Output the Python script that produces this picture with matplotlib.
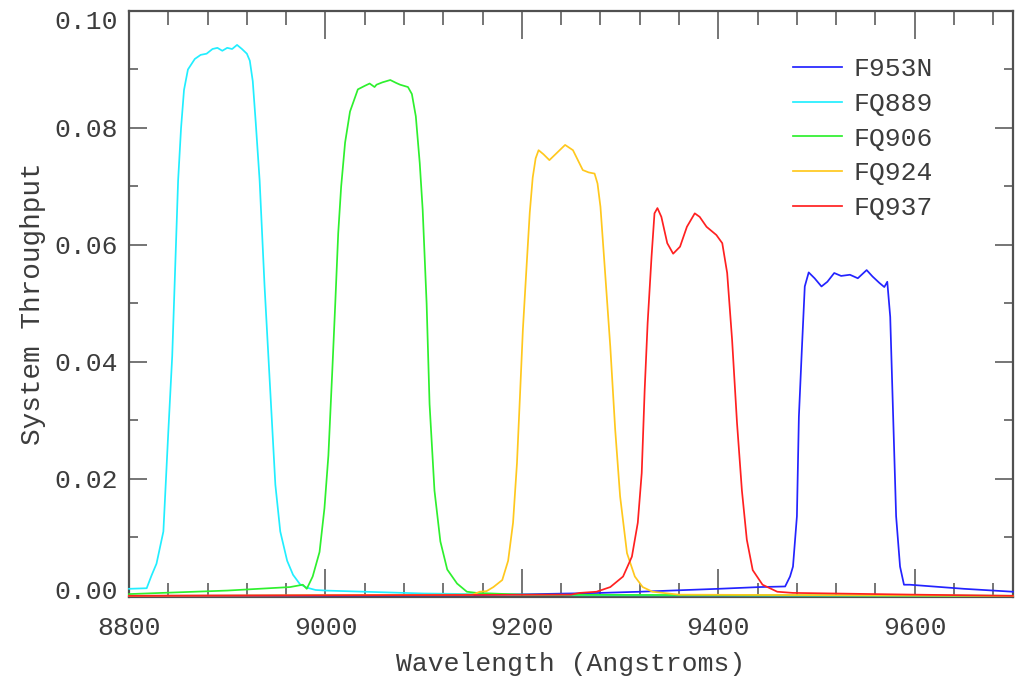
import matplotlib
matplotlib.use("Agg")
import matplotlib.pyplot as plt
from matplotlib.ticker import MultipleLocator, FixedLocator
from matplotlib.transforms import ScaledTranslation

# ---- data ----
labels = ["F953N", "FQ889", "FQ906", "FQ924", "FQ937"]
colors = ["#2323ff", "#22eeff", "#2ef02e", "#ffc81e", "#ff2020"]

wl_f953n = [8800, 9150, 9280, 9320, 9400, 9442, 9468, 9473, 9476, 9480, 9482, 9485,
            9488, 9492, 9498, 9505, 9511, 9518, 9525, 9534, 9542, 9551, 9557, 9564,
            9569, 9572, 9575, 9578, 9581, 9585, 9589, 9595, 9650, 9700]
tp_f953n = [0.0, 0.0001, 0.0005, 0.0007, 0.0012, 0.0015, 0.0016, 0.0033, 0.005, 0.0136,
            0.0306, 0.042, 0.0529, 0.0553, 0.0543, 0.0529, 0.0537, 0.0552, 0.0547,
            0.0549, 0.0543, 0.0557, 0.0546, 0.0535, 0.0528, 0.0537, 0.0477, 0.0306,
            0.0136, 0.005, 0.0019, 0.0019, 0.0012, 0.0007]

wl_fq889 = [8800, 8818, 8823, 8828, 8835, 8840, 8844, 8847, 8850, 8853, 8856, 8860,
            8867, 8873, 8879, 8885, 8890, 8895, 8900, 8905, 8910, 8915, 8920, 8923,
            8926, 8929, 8933, 8938, 8944, 8949, 8954, 8961, 8967, 8974, 8981, 8990,
            9000, 9100, 9250, 9700]
tp_fq889 = [0.0012, 0.0013, 0.0035, 0.0055, 0.011, 0.028, 0.041, 0.056, 0.071, 0.080,
            0.0865, 0.0900, 0.0918, 0.0925, 0.0927, 0.0935, 0.0937, 0.0932, 0.0937,
            0.0935, 0.0942, 0.0935, 0.0927, 0.0915, 0.088, 0.081, 0.071, 0.053, 0.0345,
            0.019, 0.011, 0.006, 0.0036, 0.002, 0.0014, 0.0010, 0.0009, 0.0004, 0.0001,
            0.0]

wl_fq906 = [8800, 8900, 8964, 8977, 8981, 8987, 8994, 8999, 9003, 9007, 9010, 9013,
            9016, 9020, 9025, 9033, 9040, 9045, 9050, 9052, 9058, 9066, 9072, 9076,
            9084, 9088, 9092, 9096, 9099, 9103, 9106, 9111, 9117, 9124, 9134, 9144,
            9154, 9200, 9700]
tp_fq906 = [0.0003, 0.0009, 0.0015, 0.0019, 0.0012, 0.0033, 0.0075, 0.015, 0.024,
            0.0386, 0.050, 0.062, 0.070, 0.0775, 0.0828, 0.0866, 0.0872, 0.0876,
            0.0870, 0.0874, 0.0878, 0.0882, 0.0877, 0.0874, 0.087, 0.0858, 0.082,
            0.074, 0.066, 0.050, 0.0328, 0.018, 0.0093, 0.0045, 0.0021, 0.0007,
            0.0005, 0.0002, 0.0]

wl_fq924 = [8800, 9150, 9157, 9164, 9171, 9180, 9186, 9191, 9195, 9198, 9201, 9205,
            9208, 9211, 9214, 9217, 9222, 9228, 9236, 9244, 9252, 9262, 9268, 9274,
            9277, 9280, 9284, 9290, 9295, 9300, 9307, 9315, 9323, 9333, 9360, 9700]
tp_fq924 = [0.0, 0.0002, 0.0007, 0.0008, 0.0015, 0.0027, 0.006, 0.0125, 0.0227, 0.034,
            0.0455, 0.057, 0.0655, 0.0715, 0.0748, 0.0762, 0.0755, 0.0745, 0.0758,
            0.0771, 0.0762, 0.0728, 0.0724, 0.0722, 0.0705, 0.0665, 0.057, 0.0426,
            0.0284, 0.017, 0.0073, 0.0033, 0.0015, 0.0007, 0.0002, 0.0]

wl_fq937 = [8800, 9250, 9259, 9276, 9290, 9303, 9312, 9318, 9322, 9325, 9328, 9332,
            9335, 9338, 9342, 9348, 9354, 9361, 9368, 9376, 9381, 9388, 9398, 9404,
            9409, 9414, 9419, 9424, 9429, 9435, 9445, 9460, 9476, 9600, 9700]
tp_fq937 = [0.0, 0.0002, 0.0005, 0.0007, 0.0015, 0.0033, 0.0067, 0.0125, 0.021, 0.0352,
            0.0466, 0.058, 0.0654, 0.0663, 0.0648, 0.0603, 0.0585, 0.0597, 0.0631,
            0.0654, 0.0648, 0.0631, 0.0617, 0.0603, 0.0552, 0.0438, 0.0296, 0.018,
            0.0096, 0.0044, 0.0019, 0.0007, 0.0005, 0.0002, 0.0]

series = [(wl_f953n, tp_f953n), (wl_fq889, tp_fq889), (wl_fq906, tp_fq906),
          (wl_fq924, tp_fq924), (wl_fq937, tp_fq937)]

ytick_vals = [0.00, 0.02, 0.04, 0.06, 0.08, 0.10]

# ---- plot ----
plt.rcParams['font.family'] = ['Liberation Mono', 'DejaVu Sans Mono']
txt = "#3c3c3c"
axc = "#505050"

fig = plt.figure(figsize=(10.16, 6.78), dpi=100)
ax = fig.add_axes([129 / 1016, (678 - 597) / 678, (1013 - 129) / 1016, (597 - 11) / 678])

for (wl, tp), lab, col in zip(series, labels, colors):
    ax.plot(wl, tp, color=col, lw=1.25, label=lab, clip_on=False, zorder=3)

ax.set_xlim(8800, 9700)
ax.set_ylim(-0.0002, 0.1)

ax.xaxis.set_major_locator(MultipleLocator(200))
ax.xaxis.set_minor_locator(MultipleLocator(40))
ax.yaxis.set_major_locator(FixedLocator(ytick_vals))
ax.yaxis.set_minor_locator(MultipleLocator(0.01))
ax.set_yticklabels([f"{v:.2f}" for v in ytick_vals])

ax.tick_params(axis='x', which='major', direction='in', length=20, width=1.1,
               top=True, bottom=True, color=axc, labelsize=19, labelcolor=txt, pad=14)
ax.tick_params(axis='x', which='minor', direction='in', length=10, width=1.1,
               top=True, bottom=True, color=axc)
ax.tick_params(axis='y', which='major', direction='in', length=13, width=1.1,
               left=True, right=True, color=axc, labelsize=19, labelcolor=txt, pad=8)
ax.tick_params(axis='y', which='minor', direction='in', length=6.5, width=1.1,
               left=True, right=True, color=axc)

for s in ax.spines.values():
    s.set_color(axc)
    s.set_linewidth(1.6)

ax.set_xlabel("Wavelength (Angstroms)", fontsize=19, color=txt, labelpad=8)
ax.set_ylabel("System Throughput", fontsize=20, color=txt, labelpad=6)

leg = ax.legend(loc='upper left', bbox_to_anchor=(0.751, 0.9215), frameon=False,
                fontsize=19, handlelength=1.86, handletextpad=0.42, labelspacing=0.41,
                borderpad=0, borderaxespad=0)
for t in leg.get_texts():
    t.set_color(txt)

# nudge the outermost y tick labels inward, as in the reference
labs = ax.get_yticklabels()
labs[0].set_transform(labs[0].get_transform() + ScaledTranslation(0, 6 / 100, fig.dpi_scale_trans))
labs[-1].set_transform(labs[-1].get_transform() + ScaledTranslation(0, -8 / 100, fig.dpi_scale_trans))

fig.savefig("out.png", dpi=100)
